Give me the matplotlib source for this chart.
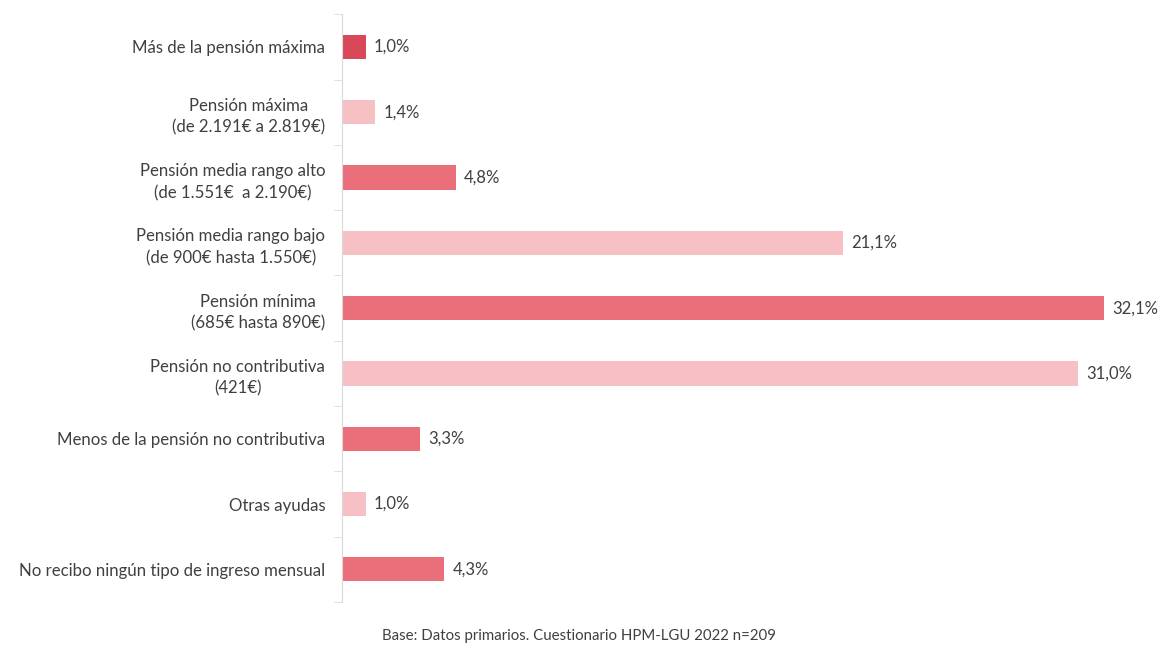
import matplotlib.pyplot as plt
import numpy as np

categories = [
    "Más de la pensión máxima",
    "Pensión máxima\n(de 2.191€ a 2.819€)",
    "Pensión media rango alto\n(de 1.551€  a 2.190€)",
    "Pensión media rango bajo\n(de 900€ hasta 1.550€)",
    "Pensión mínima\n(685€ hasta 890€)",
    "Pensión no contributiva\n(421€)",
    "Menos de la pensión no contributiva",
    "Otras ayudas",
    "No recibo ningún tipo de ingreso mensual",
]
values = [1.0, 1.4, 4.8, 21.1, 32.1, 31.0, 3.3, 1.0, 4.3]
colors = ["#D94858", "#F6C0C5", "#EB6F7A", "#F6C0C5", "#EB6F7A",
          "#F6C0C5", "#EB6F7A", "#F6C0C5", "#EB6F7A"]

plt.rcParams["font.family"] = ["Lato", "DejaVu Sans"]

fig = plt.figure(figsize=(11.58, 6.46), dpi=100)
ax = fig.add_axes([0.2953, 0.068, 0.697, 0.91])

y = np.arange(len(categories))
ax.barh(y, values, height=0.37, color=colors)
ax.set_ylim(len(categories) - 0.5, -0.5)
ax.set_xlim(0, 34)

for yi, v in zip(y, values):
    ax.text(v + 0.35, yi, f"{v:.1f}".replace(".", ",") + "%", va="center",
            ha="left", fontsize=12, color="#404040")

ax.set_yticks(y)
ax.set_yticklabels(categories, fontsize=12.1, color="#404040",
                   multialignment="center", linespacing=1.45)
ax.tick_params(axis="y", length=0, pad=12)
ax.set_yticks(np.arange(-0.5, len(categories), 1), minor=True)
ax.tick_params(axis="y", which="minor", length=6, color="#D9D9D9")
ax.set_xticks([])

for s in ["top", "right", "bottom"]:
    ax.spines[s].set_visible(False)
ax.spines["left"].set_color("#D9D9D9")

fig.text(0.5, 0.004, "Base: Datos primarios. Cuestionario HPM-LGU 2022 n=209",
         ha="center", va="bottom", fontsize=10.8, color="#404040")

fig.savefig("out.png", dpi=100)
